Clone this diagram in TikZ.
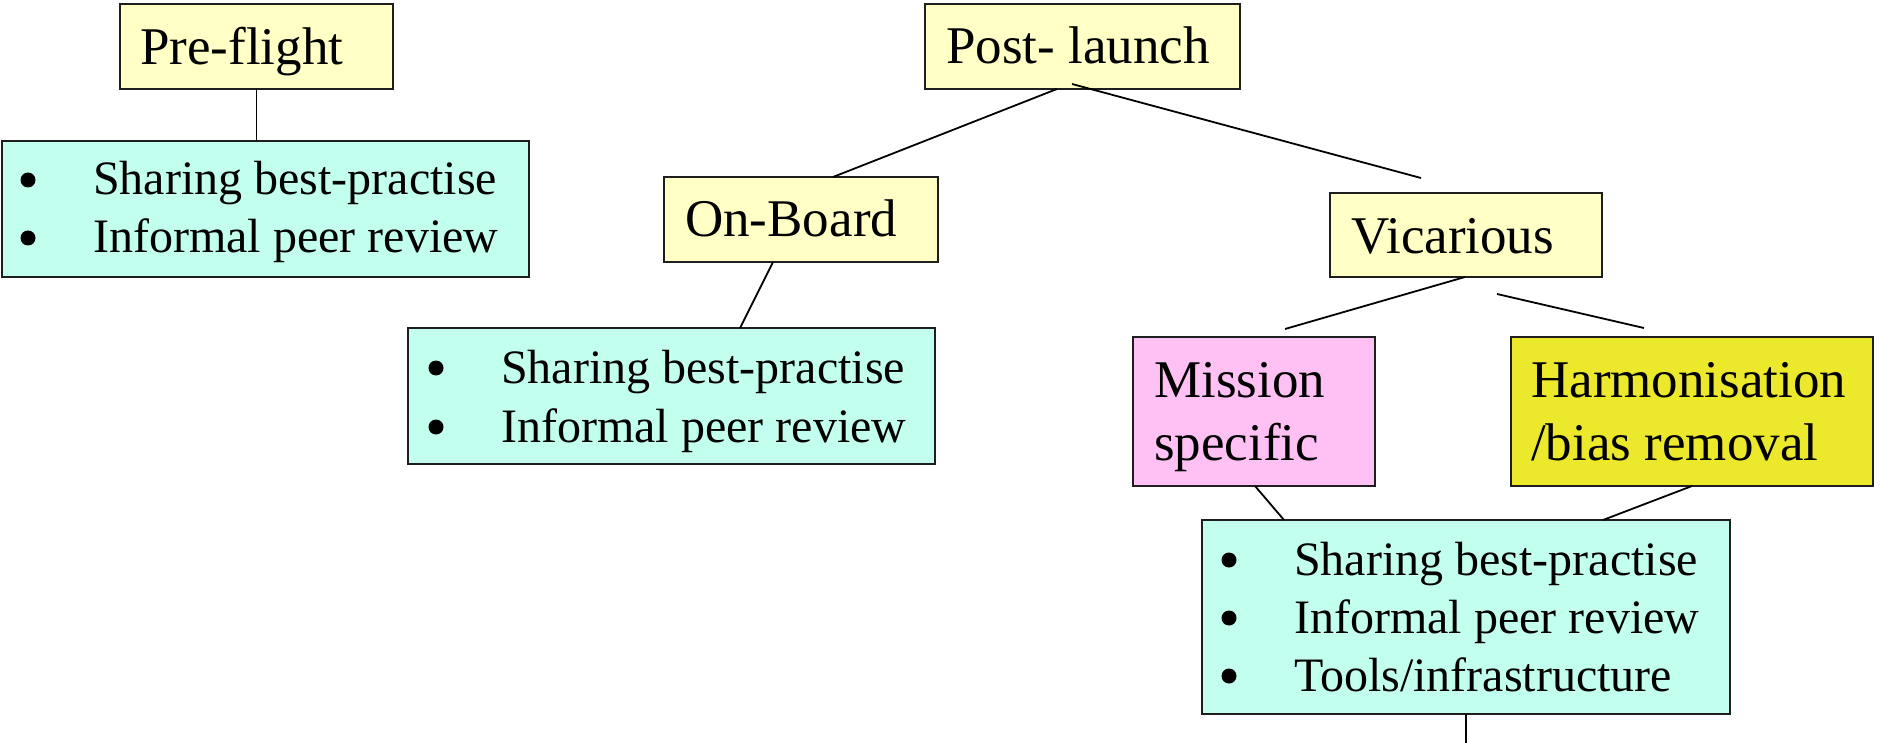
\documentclass[tikz,border=0pt]{standalone}
\usepackage{fontspec}
\setmainfont{Liberation Serif}
\definecolor{paleyellow}{RGB}{255,255,198}
\definecolor{paleaqua}{RGB}{194,255,238}
\definecolor{palepink}{RGB}{255,192,244}
\definecolor{olive}{RGB}{236,232,44}
\definecolor{edge}{RGB}{30,30,30}
\tikzset{
  box/.style={draw=edge, line width=1.8pt, rectangle, inner sep=0pt, outer sep=0pt, anchor=north west},
  head/.style={anchor=base west, inner sep=0pt, font=\fontsize{53}{63}\selectfont},
  item/.style={anchor=base west, inner sep=0pt, font=\fontsize{48}{57}\selectfont},
  dot/.style={circle, fill=black, draw=none, inner sep=0pt, minimum size=15pt},
  conn/.style={draw=black, line width=1.8pt},
}
\begin{document}
\begin{tikzpicture}[x=1pt, y=-1pt]
\useasboundingbox (0,0) rectangle (1884,743);
% boxes
\node[box, fill=paleyellow, minimum width=273pt, minimum height=85pt] (pre) at (120,4) {};
\node[box, fill=paleaqua, minimum width=527pt, minimum height=136pt] (cy1) at (2,141) {};
\node[box, fill=paleyellow, minimum width=315pt, minimum height=85pt] (post) at (925,4) {};
\node[box, fill=paleyellow, minimum width=274pt, minimum height=85pt] (onb) at (664,177) {};
\node[box, fill=paleaqua, minimum width=527pt, minimum height=136pt] (cy2) at (408,328) {};
\node[box, fill=paleyellow, minimum width=272pt, minimum height=84pt] (vic) at (1330,193) {};
\node[box, fill=palepink, minimum width=242pt, minimum height=149pt] (mis) at (1133,337) {};
\node[box, fill=olive, minimum width=362pt, minimum height=149pt] (har) at (1511,337) {};
\node[box, fill=paleaqua, minimum width=528pt, minimum height=194pt] (cy3) at (1202,520) {};
% texts
\node[head] (tpre) at (140,65) {Pre-flight};
\node[head] (tpost) at (946,64) {Post- launch};
\node[head] (tonb) at (685,237) {On-Board};
\node[head] (tvic) at (1351,254) {Vicarious};
\node[head] (tmis1) at (1154,397) {Mission};
\node[head] (tmis2) at (1154,460) {specific};
\node[head] (thar1) at (1531,397) {Harmonisation};
\node[head] (thar2) at (1531,460) {/bias removal};
% bullet lists
\node[dot] (b11) at (28,180) {};
\node[item] (t11) at (93,195) {Sharing best-practise};
\node[dot] (b12) at (28,238) {};
\node[item] (t12) at (93,253) {Informal peer review};
\node[dot] (b21) at (436,368) {};
\node[item] (t21) at (501,383) {Sharing best-practise};
\node[dot] (b22) at (436,427) {};
\node[item] (t22) at (501,442) {Informal peer review};
\node[dot] (b31) at (1229,560) {};
\node[item] (t31) at (1294,575) {Sharing best-practise};
\node[dot] (b32) at (1229,618) {};
\node[item] (t32) at (1294,633) {Informal peer review};
\node[dot] (b33) at (1229,676) {};
\node[item] (t33) at (1294,691) {Tools/infrastructure};
% free ends
\coordinate (postend) at (1421,178);
\coordinate (vicend) at (1285,329);
\coordinate (harstart) at (1497,294);
\coordinate (harend) at (1644,328);
\coordinate (bottom) at (1466,743);
% connectors
\draw[conn] (pre.south) -- (pre.south |- cy1.north);
\draw[conn] ([xshift=132pt]post.south west) -- ([xshift=169pt]onb.north west);
\draw[conn] ([xshift=147pt,yshift=5pt]post.south west) -- (postend);
\draw[conn] ([xshift=109pt]onb.south west) -- ([xshift=332pt]cy2.north west);
\draw[conn] ([xshift=135pt]vic.south west) -- (vicend);
\draw[conn] (harstart) -- (harend);
\draw[conn] ([xshift=122pt]mis.south west) -- ([xshift=82pt]cy3.north west);
\draw[conn] ([xshift=181pt]har.south west) -- ([xshift=401pt]cy3.north west);
\draw[conn] (cy3.south) -- (bottom);
\end{tikzpicture}
\end{document}
